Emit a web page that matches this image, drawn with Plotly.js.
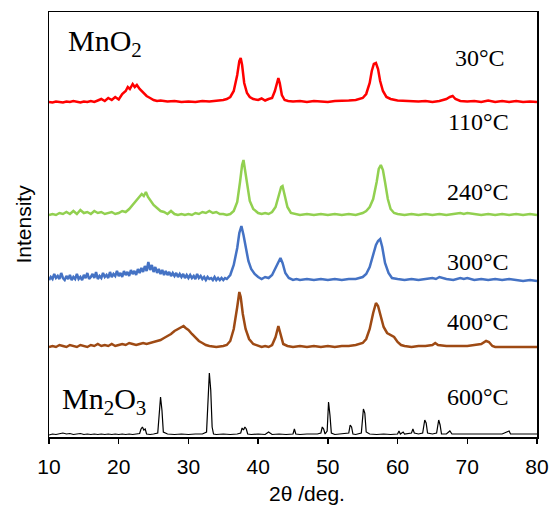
<!DOCTYPE html>
<html>
<head>
<meta charset="utf-8">
<script src="https://cdn.plot.ly/plotly-3.0.1.min.js"></script>
<style>html,body{margin:0;padding:0;background:#fff;}#chart{width:556px;height:511px;}</style>
</head>
<body>
<div id="chart"></div>
<script>
// Sample labels (temperature) and phase labels
const sampleLabels = ["30°C", "110°C", "240°C", "300°C", "400°C", "600°C"];
const phaseLabels = ["MnO<sub>2</sub>", "Mn<sub>2</sub>O<sub>3</sub>"];
const xTicks = [10, 20, 30, 40, 50, 60, 70, 80];

// Vertical stacking offsets of each pattern (arbitrary intensity units)
const offsets = {t30: 334, t240: 220, t300: 154, t400: 88, t600: 2};

// 30°C (red)
const x30 = [10,10.5,11,11.5,12,12.5,13,13.5,14,14.5,15,15.5,16,16.5,17,17.5,18,18.5,19,19.5,20,20.5,21,21.3,21.6,22,22.3,22.6,23,23.3,23.6,24,24.5,25,25.5,26,27,28,29,30,31,32,33,34,35,35.5,36,36.5,37,37.3,37.5,37.7,38,38.4,38.8,39.3,40,40.5,41,41.5,42,42.4,42.7,42.9,43.1,43.4,43.8,44.3,45,46,47,48,49,50,51,52,53,54,55,55.5,56,56.3,56.6,56.9,57.2,57.5,57.9,58.4,59,60,61,62,63,64,65,66,67,67.5,67.9,68.3,69,70,71,72,73,74,75,76,77,78,79,80];
const i30 = [1,0.5,1.5,1,0.5,1.5,1,2,1,0.5,1.5,1,2,1,2.5,4,2,5,3,6,3.5,9,12,16,14,19,16,18,14,12,9,7,5,3,2,2.5,1.5,2,1,1.5,1,2,1.5,2,3,4,6,12,28,42,45,38,20,10,6,4,3,4.5,2.5,4,5,12,22,25,20,8,3,2,1.5,2,1,2,1.5,1,2,2,2.5,3,5,9,20,32,39,40,34,22,12,6,4,2.5,2,2,1.5,2,1,2,4,6,7,4,2,1.5,2,1,2.5,1,2,1,2,1,1.5,1];

// 240°C (green)
const x240 = [10,10.5,11,11.5,12,12.5,13,13.5,14,14.5,15,15.5,16,16.5,17,17.5,18,18.5,19,19.5,20,20.5,21,21.5,22,22.5,23,23.3,23.6,23.9,24.2,24.5,25,25.5,26,26.5,27,27.5,28,28.5,29,29.5,30,30.5,31,31.5,32,32.5,33,33.5,34,34.5,35,35.5,36,36.5,37,37.4,37.7,37.9,38.1,38.4,38.8,39.3,40,40.5,41,41.5,42,42.5,43,43.3,43.5,43.8,44.2,44.7,45.5,46,47,48,49,50,51,52,53,54,55,55.5,56,56.5,57,57.3,57.6,57.9,58.2,58.6,59,59.5,60,61,62,63,64,65,66,67,68,69,69.5,70,71,72,73,74,75,76,77,78,79,80];
const i240 = [2,3,2,4,3,5,3,6,3,7,4,5,3,6,4,5,3,4,5,3,4,6,5,8,12,16,20,23,21,25,20,17,12,9,6,5,3,6,3,2,3,2,3,2,4,3,5,4,6,4,5,3,3,2,3,6,15,35,52,57,48,30,16,8,4,3,4,3,5,10,22,30,31,22,10,4,3,2,3,2,3,2,3,2,3,2,4,6,10,18,35,48,52,47,35,18,8,4,3,2,3,2,3,2,3,2,3,4,3,4,3,2,3,2,3,2,3,2,3,2];

// 300°C (blue)
const x300 = [10,10.25,10.5,10.75,11,11.25,11.5,11.75,12,12.25,12.5,12.75,13,13.25,13.5,13.75,14,14.25,14.5,14.75,15,15.25,15.5,15.75,16,16.25,16.5,16.75,17,17.25,17.5,17.75,18,18.25,18.5,18.75,19,19.25,19.5,19.75,20,20.25,20.5,20.75,21,21.25,21.5,21.75,22,22.25,22.5,22.75,23,23.25,23.5,23.75,24,24.25,24.5,24.75,25,25.25,25.5,25.75,26,26.25,26.5,26.75,27,27.25,27.5,27.75,28,28.25,28.5,28.75,29,29.25,29.5,29.75,30,30.25,30.5,30.75,31,31.25,31.5,31.75,32,32.25,32.5,32.75,33,33.25,33.5,33.75,34,34.25,34.5,34.75,35,35.25,35.5,35.75,36,36.5,37,37.3,37.6,37.9,38.2,38.6,39,39.5,40,40.5,41,41.5,42,42.5,42.9,43.2,43.5,43.9,44.4,45,45.5,46,47,48,49,50,51,52,53,54,55,55.5,56,56.5,56.9,57.2,57.5,57.8,58.2,58.7,59.2,60,61,62,63,64,65,65.5,66,67,68,69,69.5,70,71,72,73,74,75,76,77,78,79,80];
const i300 = [3,6,4,9,5,7,4,10,5,3,7,4,8,3,6,4,9,4,6,3,8,5,10,4,6,9,5,11,4,7,5,10,6,8,5,11,6,9,7,12,7,10,6,12,8,11,7,13,9,12,8,14,10,15,11,17,12,21,13,18,11,16,10,14,9,13,8,12,8,11,7,10,7,10,6,9,6,9,5,8,5,8,5,7,4,9,5,7,4,6,3,6,4,5,3,6,3,5,3,5,3,5,4,6,8,18,35,50,57,48,35,22,14,9,6,4,6,5,8,15,22,25,20,10,5,3,4,3,4,3,4,3,4,3,4,4,6,9,16,28,38,42,44,36,20,10,5,4,3,4,3,4,5,4,6,4,3,5,4,5,3,4,3,4,3,4,3,2,3,2];

// 400°C (brown)
const x400 = [10,10.5,11,11.5,12,12.5,13,13.5,14,14.5,15,15.5,16,16.5,17,17.5,18,18.5,19,19.5,20,20.5,21,21.5,22,22.5,23,23.5,24,24.5,25,25.5,26,26.5,27,27.5,28,28.5,29,29.3,29.6,30,30.5,31,31.5,32,32.5,33,34,35,35.5,36,36.5,37,37.3,37.5,37.8,38.2,38.7,39.3,40,40.5,41,41.5,42,42.5,42.9,43.2,43.6,44.2,45,46,47,48,49,50,51,52,53,54,55,55.5,56,56.5,56.9,57.2,57.6,58,58.5,59,59.5,60,60.5,61,62,63,64,65,65.4,65.8,66.5,67,68,69,70,71,72,72.7,73.1,73.6,74,75,76,77,78,79,80];
const i400 = [2,3,2,4,3,2,4,3,2,4,3,2,4,3,5,3,4,3,5,3,4,5,4,6,5,4,5,6,5,6,7,8,9,11,13,15,18,20,22,23,21,19,15,11,8,6,4,3,2,3,4,8,20,42,57,52,35,20,10,5,3,2,3,2,4,12,23,16,5,3,2,3,2,3,2,3,2,3,3,4,6,10,20,36,46,43,32,22,16,14,12,7,4,3,2,3,3,4,6,4,3,3,3,3,3,4,5,8,7,3,2,2,2,2,2,2,2];

// 600°C (black, Mn2O3)
const x600 = [10,10.5,11,11.5,12,12.5,13,13.5,14,14.5,15,15.5,16,16.5,17,17.5,18,18.5,19,19.5,20,20.5,21,21.5,22,22.5,23,23.2,23.4,23.6,23.8,24,24.5,25,25.6,25.8,26,26.2,26.4,27,28,29,30,31,32,32.6,32.8,33,33.2,33.4,33.6,34,35,36,37,37.5,37.7,37.9,38.1,38.3,38.5,39,40,41,41.5,41.8,42,43,44,45,45.2,45.4,46,47,48,48.5,49,49.2,49.4,49.6,49.9,50.1,50.3,50.5,51,52,53,53.2,53.4,53.6,54,54.8,55.1,55.3,55.5,56,57,58,59,60,60.2,60.4,60.8,61,62,62.2,62.4,63,63.6,63.9,64.1,64.3,65,65.6,65.9,66.1,66.3,67,67.5,67.8,68,69,70,71,72,73,74,75,76,76.2,77,78,79,80];
const i600 = [0,1,0.5,1,2,1,1.5,0.5,1,1.5,0.5,1,0.5,1,0.5,1,0.5,1,0.5,1,0.5,1,0.5,1,0.5,1,1.5,6,8,5,6,1,0.5,1,2,20,38,25,3,1,0.5,1,0.5,1,1,3,40,62,45,8,1,0.5,1,0.5,1,2,7,5,8,6,1,0.5,1,0.5,3,1,0.5,1,0.5,1,6,1,0.5,1,0.5,1,2,8,6,1,4,33,20,2,0.5,1,2,10,8,1,0.5,2,26,22,3,1,0.5,1,0.5,1,4,1,3,1,2,6,2,1,2,15,12,2,1,2,15,10,1,1,4,1,1,1,0.5,1,0.5,1,1,1,4,1,1,1,1,1];

function shift(arr, off) { return arr.map(v => v + off); }

const series = [
  {x: x30,  y: shift(i30,  offsets.t30),  color: "#ff0000", w: 2.5},
  {x: x240, y: shift(i240, offsets.t240), color: "#92d050", w: 2.5},
  {x: x300, y: shift(i300, offsets.t300), color: "#4472c4", w: 2.5},
  {x: x400, y: shift(i400, offsets.t400), color: "#9e4a14", w: 2.5},
  {x: x600, y: shift(i600, offsets.t600), color: "#000000", w: 1.2}
];

const traces = series.map(s => ({
  x: s.x, y: s.y, type: "scatter", mode: "lines",
  line: {color: s.color, width: s.w}, hoverinfo: "skip", showlegend: false
}));

// label positions in pixel rows of the plot (converted to y data)
const labelRows = [58, 122, 192, 262, 322, 397];
const H = 425, TOP = 12;
function rowToY(p) { return H - (p - TOP); }

const serif = "Liberation Serif, Times New Roman, serif";
const sans = "Liberation Sans, Arial, sans-serif";
const annotations = sampleLabels.map((t, k) => ({
  text: t, xref: "paper", yref: "y", x: k === 0 ? 0.939 : 0.947, y: rowToY(labelRows[k]),
  xanchor: "right", yanchor: "middle", showarrow: false,
  font: {family: serif, size: 24, color: "#000"}
}));
annotations.push({text: phaseLabels[0], xref: "paper", yref: "y", x: (66-49)/488, y: rowToY(43),
  xanchor: "left", yanchor: "middle", showarrow: false, font: {family: serif, size: 30, color: "#000"}});
annotations.push({text: phaseLabels[1], xref: "paper", yref: "y", x: (60-49)/488, y: rowToY(401),
  xanchor: "left", yanchor: "middle", showarrow: false, font: {family: serif, size: 30, color: "#000"}});
annotations.push({text: "2θ /deg.", xref: "paper", yref: "paper", x: (307-49)/488, y: -0.132,
  xanchor: "center", yanchor: "middle", showarrow: false, font: {family: sans, size: 21, color: "#000"}});
annotations.push({text: "Intensity", xref: "paper", yref: "paper", x: (23-49)/488, y: 0.5, textangle: -90,
  xanchor: "center", yanchor: "middle", showarrow: false, font: {family: sans, size: 21, color: "#000"}});

const layout = {
  width: 556, height: 511,
  margin: {l: 49, r: 19, t: 12, b: 74},
  paper_bgcolor: "#fff", plot_bgcolor: "#fff",
  xaxis: {range: [10, 80], tickvals: xTicks, ticktext: xTicks.map(String),
    ticks: "outside", ticklen: 5, tickwidth: 1.5, tickcolor: "#000", ticklabelstandoff: 5,
    showline: true, linecolor: "#000", linewidth: 1.5, mirror: true,
    showgrid: false, zeroline: false,
    tickfont: {family: sans, size: 21, color: "#000"}},
  yaxis: {range: [0, H], showticklabels: false, ticks: "",
    showline: true, linecolor: "#000", linewidth: 1.5, mirror: true,
    showgrid: false, zeroline: false},
  annotations: annotations,
  showlegend: false
};

Plotly.newPlot("chart", traces, layout, {staticPlot: true, displayModeBar: false});
</script>
</body>
</html>
